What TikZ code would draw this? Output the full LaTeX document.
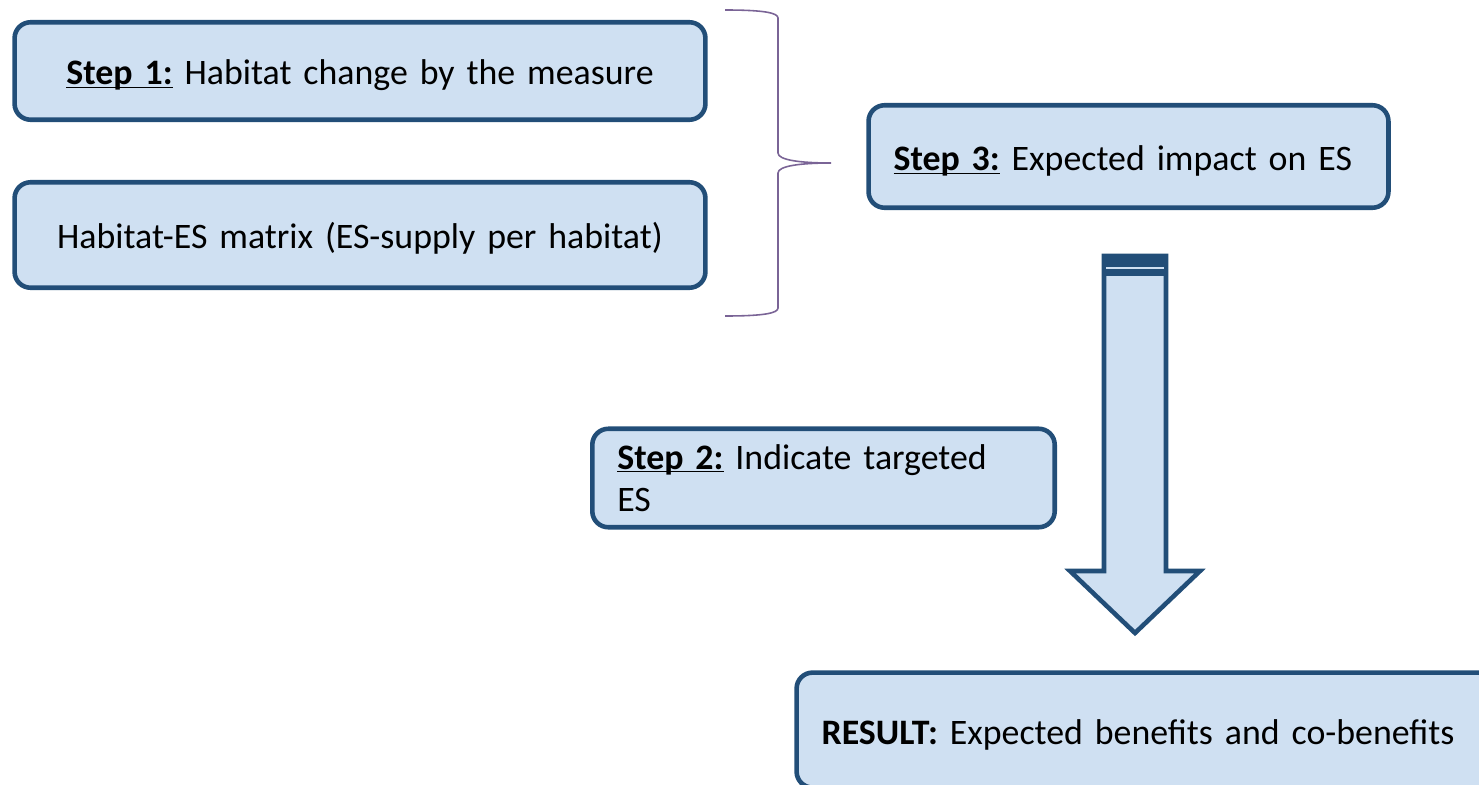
\documentclass[tikz,border=0pt]{standalone}
\usepackage{fontspec}
\setmainfont{Carlito}
\usepackage{tikz}

\definecolor{boxfill}{HTML}{CFE0F2}
\definecolor{boxline}{HTML}{224E78}
\definecolor{bracecol}{HTML}{7A6496}

\newcommand{\steplabel}[1]{\smash{\underline{\smash{\textbf{#1}}}}}

\tikzset{
  stepbox/.style={draw=boxline,fill=boxfill,line width=2.6pt,rounded corners=0.32cm,
    inner xsep=0.5cm,font=\fontsize{20.4}{24}\selectfont},
  oneline/.style={text height=15.9pt,text depth=0pt},
  arrowbody/.style={draw=boxline,fill=boxfill,line width=2.6pt,miter limit=10},
}

\begin{document}
\begin{tikzpicture}[x=0.02cm,y=-0.02cm]
\useasboundingbox (0,0) rectangle (1479,784);

% Input boxes (left)
\node[stepbox,oneline,minimum width=13.82cm,minimum height=1.95cm,text width=12.8cm,align=center] (s1) at (360,71) {\steplabel{Step 1:} Habitat change by the measure};
\node[stepbox,oneline,minimum width=13.82cm,minimum height=2.11cm,text width=12.8cm,align=center] (hes) at (360,235) {Habitat-ES matrix (ES-supply per habitat)};

% Step 3 and step 2 boxes
\node[stepbox,oneline,minimum width=10.4cm,minimum height=2.05cm,text width=9.4cm,align=left] (s3) at (1128.5,156.5) {\steplabel{Step 3:} Expected impact on ES};
\node[stepbox,minimum width=9.25cm,minimum height=1.97cm,text width=8.25cm,align=left] (s2) at (823.5,478) {\steplabel{Step 2:} Indicate targeted\\ES};

% Result box (runs off the page)
\node[stepbox,oneline,anchor=north west,minimum width=15cm,minimum height=2.3cm,text width=14cm,align=left] (res) at (794.3,670.3) {\textbf{RESULT:} Expected benefits and co-benefits};

% Brace
\coordinate (brtop) at (725,10);
\coordinate (brtip) at (831,163);
\coordinate (brbot) at (725,316);
\draw[bracecol,line width=0.9pt] (brtop) .. controls (765,10) and (778,13) .. (778,18) -- (778,153)
  .. controls (778,160) and (800,163) .. (brtip)
  .. controls (800,163) and (778,166) .. (778,173) -- (778,308)
  .. controls (778,313) and (765,316) .. (brbot);

% Block arrow
\coordinate (atip) at (1135,633);
\draw[arrowbody] (1104,256) -- (1166,256) -- (1166,571) -- (1200,571) -- (atip) -- (1070,571) -- (1104,571) -- cycle;
\fill[boxline] (1104,256) rectangle (1166,276);
\draw[boxfill,line width=1pt] (1106,268) -- (1164,268);

\end{tikzpicture}
\end{document}
